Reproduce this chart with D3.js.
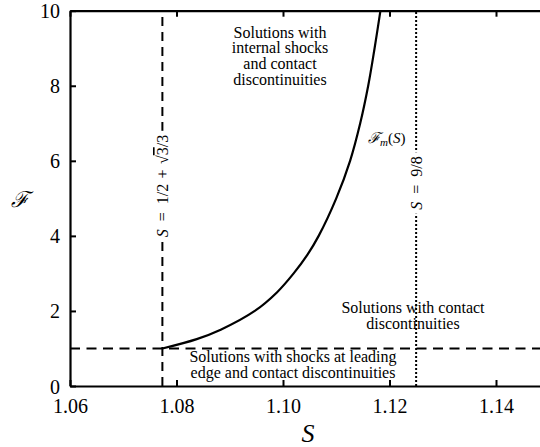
<!DOCTYPE html>
<html>
<head>
<meta charset="utf-8">
<script src="https://cdn.jsdelivr.net/npm/d3@7"></script>
<style>
  html, body { margin: 0; padding: 0; background: #fff; }
  svg { display: block; }
  svg text { font-family: "Liberation Serif", "Times New Roman", serif; }
</style>
</head>
<body>
<svg id="chart" width="540" height="447"></svg>
<script>
// Critical curve F_m(S): starts at S = 1/2 + sqrt(3)/3, F = 1
const curveS = [1.07735, 1.0838, 1.0883, 1.0947, 1.0989, 1.1020, 1.1046, 1.1067, 1.1100, 1.1126, 1.1145, 1.1160, 1.1172, 1.1183];
const curveF = [1.0, 1.25, 1.5, 2.0, 2.5, 3.0, 3.5, 4.0, 5.0, 6.0, 7.0, 8.0, 9.0, 10.0];

const xTicks = [1.06, 1.08, 1.10, 1.12, 1.14];
const yTicks = [0, 2, 4, 6, 8, 10];

const sLeft = 0.5 + Math.sqrt(3) / 3;   // vertical dashed boundary
const sRight = 9 / 8;                    // vertical dotted boundary
const fLevel = 1;                        // horizontal dashed boundary

const regionTop = ["Solutions with", "internal shocks", "and contact", "discontinuities"];
const regionRight = ["Solutions with contact", "discontinuities"];
const regionBottom = ["Solutions with shocks at leading", "edge and contact discontinuities"];

const plot = { left: 70, top: 10.7, bottom: 386, right: 549.25 };
const SERIF = "'Liberation Serif', 'Times New Roman', serif";

const svg = d3.select("#chart");
const x = d3.scaleLinear().domain([1.06, 1.15]).range([plot.left, plot.right]);
const y = d3.scaleLinear().domain([0, 10]).range([plot.bottom, plot.top]);

svg.append("defs").append("clipPath").attr("id", "plotclip")
  .append("rect").attr("x", plot.left).attr("y", plot.top)
  .attr("width", plot.right - plot.left).attr("height", plot.bottom - plot.top);

const g = svg.append("g").attr("clip-path", "url(#plotclip)");

// Boundary lines
g.append("line")
  .attr("x1", x(sLeft)).attr("x2", x(sLeft))
  .attr("y1", y(0)).attr("y2", y(10))
  .attr("stroke", "#000").attr("stroke-width", 2).attr("stroke-dasharray", "9,6");

g.append("line")
  .attr("x1", x(sRight)).attr("x2", x(sRight))
  .attr("y1", y(0)).attr("y2", y(10))
  .attr("stroke", "#000").attr("stroke-width", 2).attr("stroke-dasharray", "2,2");

g.append("line")
  .attr("x1", x(1.06)).attr("x2", x(1.15))
  .attr("y1", y(fLevel)).attr("y2", y(fLevel))
  .attr("stroke", "#000").attr("stroke-width", 2).attr("stroke-dasharray", "10,6.5");

// F_m(S) curve
const pts = curveS.map((s, i) => [s, curveF[i]]);
g.append("path")
  .datum(pts)
  .attr("fill", "none").attr("stroke", "#000").attr("stroke-width", 2.2)
  .attr("d", d3.line().x(d => x(d[0])).y(d => y(d[1])).curve(d3.curveCatmullRom.alpha(0.5)));

// Axes
const xAxisB = d3.axisBottom(x).tickValues(xTicks).tickFormat(d3.format(".2f")).tickSizeInner(-6).tickSizeOuter(0).tickPadding(10);
const xAxisT = d3.axisTop(x).tickValues(xTicks).tickFormat("").tickSizeInner(-6).tickSizeOuter(0);
const yAxisL = d3.axisLeft(y).tickValues(yTicks).tickFormat(d3.format("d")).tickSizeInner(-6).tickSizeOuter(0).tickPadding(10);

function styleAxis(sel) {
  sel.attr("font-family", null).attr("font-size", null);
  sel.select(".domain").attr("stroke", "#000").attr("stroke-width", 2.2);
  sel.selectAll(".tick line").attr("stroke", "#000").attr("stroke-width", 2);
  sel.selectAll(".tick text").attr("fill", "#000")
    .style("font-family", SERIF).style("font-size", "20px");
}

svg.append("g").attr("transform", `translate(0,${plot.bottom})`).call(xAxisB).call(styleAxis)
  .selectAll(".tick text").attr("dy", "0.85em");
svg.append("g").attr("transform", `translate(0,${plot.top})`).call(xAxisT).call(styleAxis);
svg.append("g").attr("transform", `translate(${plot.left},0)`).call(yAxisL).call(styleAxis)
  .selectAll(".tick text").attr("dy", "0.35em");

// Region annotations
function block(lines, cx, firstBaseline, lh) {
  const t = svg.append("text").attr("text-anchor", "middle")
    .style("font-family", SERIF).style("font-size", "16px").attr("fill", "#000");
  lines.forEach((s, i) => t.append("tspan").attr("x", cx).attr("y", firstBaseline + i * lh).text(s));
}
block(regionTop, 280, 37.5, 15.7);
block(regionRight, 413, 312.5, 16.5);
block(regionBottom, 293, 361.5, 16);

// Rotated labels sitting over the vertical boundaries
function rotatedLabel(cx, cy, build) {
  const grp = svg.append("g").attr("transform", `translate(${cx},${cy}) rotate(-90)`);
  const bg = grp.append("rect").attr("fill", "#fff");
  const t = grp.append("text").attr("text-anchor", "middle").attr("dy", "0.35em")
    .style("font-family", SERIF).style("font-size", "16px").attr("fill", "#000");
  build(t);
  const b = t.node().getBBox();
  bg.attr("x", b.x - 4).attr("y", b.y - 1).attr("width", b.width + 8).attr("height", b.height + 2);
}

rotatedLabel(x(sLeft), 186, t => {
  t.append("tspan").style("font-style", "italic").text("S");
  t.append("tspan").text("\u2002=\u20021/2\u2004+\u2004√");
  t.append("tspan").style("text-decoration", "overline").text("3");
  t.append("tspan").text("/3");
});
rotatedLabel(x(sRight), 183, t => {
  t.append("tspan").style("font-style", "italic").text("S");
  t.append("tspan").text("\u2002=\u20029/8");
});

// Curve label
const cl = svg.append("text").attr("x", 368).attr("y", 143)
  .style("font-family", SERIF).style("font-size", "15px").attr("fill", "#000");
cl.append("tspan").style("font-style", "italic").text("ℱ");
cl.append("tspan").style("font-style", "italic").style("font-size", "11px").attr("dy", 3).text("m");
cl.append("tspan").attr("dy", -3).text("(");
cl.append("tspan").style("font-style", "italic").text("S");
cl.append("tspan").text(")");

// Axis titles
svg.append("text").attr("x", 308).attr("y", 442).attr("text-anchor", "middle")
  .style("font-family", SERIF).style("font-size", "26px").style("font-style", "italic").attr("fill", "#000").text("S");
svg.append("text").attr("x", 20).attr("y", 207).attr("text-anchor", "middle")
  .style("font-family", SERIF).style("font-size", "22px").style("font-style", "italic").attr("fill", "#000").text("ℱ");
</script>
</body>
</html>
